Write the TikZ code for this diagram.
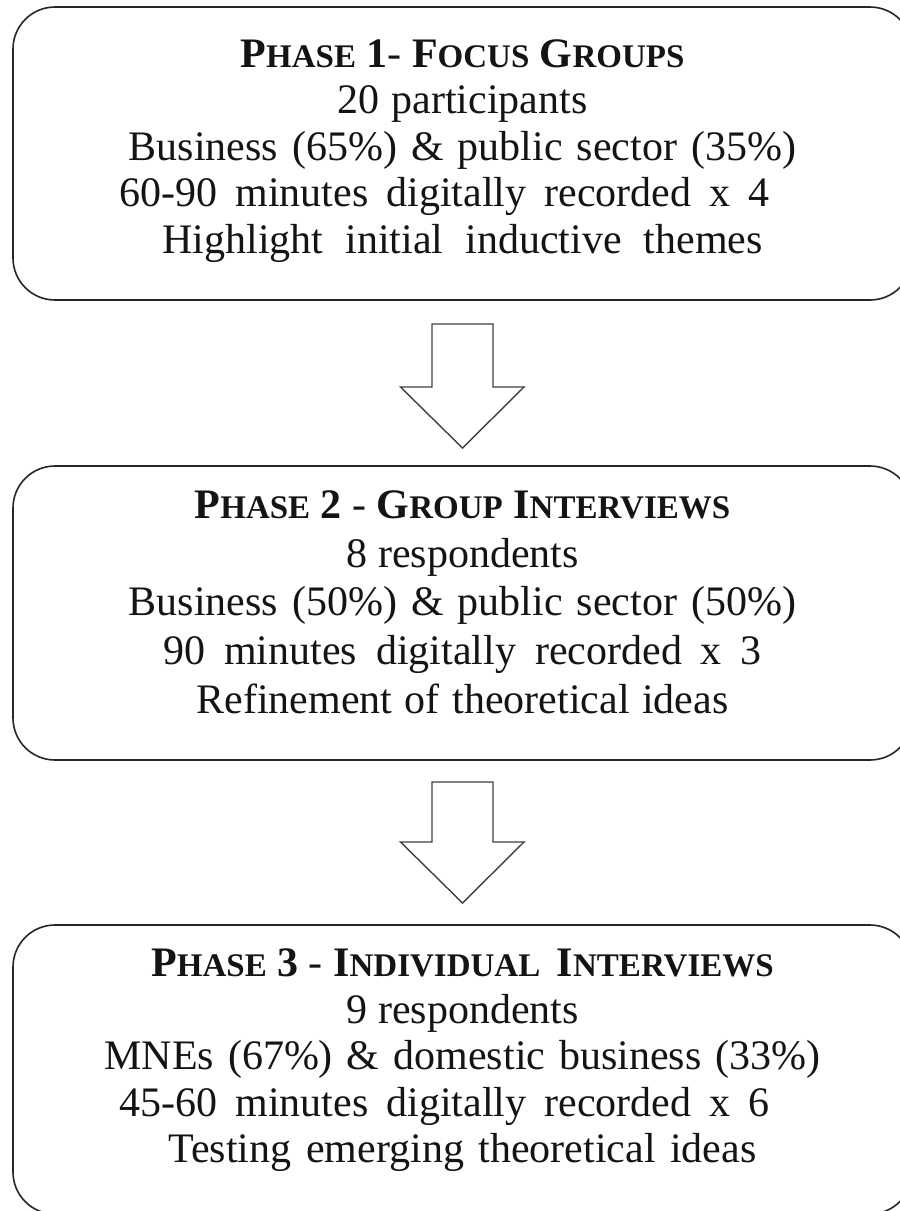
\documentclass[tikz,border=0pt]{standalone}
\usepackage{fontspec}
\setmainfont{Liberation Serif}
\newcommand\smc[1]{{\fontsize{33}{33}\selectfont #1}}
\newcommand\wl[2]{{\spaceskip=#1pt\relax #2}}
\tikzset{
  phasebox/.style={draw=black!85, line width=1.6pt, rounded corners=42pt, fill=white,
    minimum width=899pt, inner sep=0pt},
  phasetext/.style={align=center, text=black!92, inner sep=0pt},
  blockarrow/.style={draw=black!75, line width=1.4pt, fill=white, line join=miter}
}
\begin{document}
\begin{tikzpicture}[x=1pt,y=1pt]
\useasboundingbox (0,0) rectangle (900,-1211);
\clip (0,0) rectangle (900,-1211);
\fill[white] (0,0) rectangle (900,-1211);
% boxes
\node[phasebox, minimum height=293pt] (b1) at (462.5,-153.5) {};
\node[phasebox, minimum height=294pt] (b2) at (462.5,-613) {};
\node[phasebox, minimum height=289pt] (b3) at (462.5,-1069.5) {};
% texts
\node[phasetext, font=\fontsize{42}{46.5}\selectfont] (t1) at ([yshift=2.5pt]b1.center)
 {\textbf{P\smc{HASE} 1}- \textbf{F\smc{OCUS} G\smc{ROUPS}}\\
  \wl{12}{20 participants}\\
  \wl{14}{Business (65\%) \& public sector (35\%)}\\
  \wl{18}{60-90 minutes digitally recorded x 4}\kern36pt\\
  \wl{22}{Highlight initial inductive themes}};
\node[phasetext, font=\fontsize{42}{48.7}\selectfont] (t2) at ([yshift=11pt]b2.center)
 {\textbf{P\smc{HASE} 2} - \textbf{G\smc{ROUP} I\smc{NTERVIEWS}}\\
  \wl{11}{8 respondents}\\
  \wl{14}{Business (50\%) \& public sector (50\%)}\\
  \wl{19}{90 minutes digitally recorded x 3}\\
  \wl{12.5}{Refinement of theoretical ideas}};
\node[phasetext, font=\fontsize{42}{46.5}\selectfont] (t3) at ([yshift=9pt]b3.center)
 {\textbf{P\smc{HASE} 3} - \textbf{I\smc{NDIVIDUAL}\hspace{6pt} I\smc{NTERVIEWS}}\\
  \wl{11}{9 respondents}\\
  \wl{14}{MNEs (67\%) \& domestic business (33\%)}\\
  \wl{18}{45-60 minutes digitally recorded x 6}\kern36pt\\
  \wl{14.5}{Testing emerging theoretical ideas}};
% block arrows
\coordinate (a1) at (462.5,-324);
\draw[blockarrow] ([xshift=-30.5pt]a1) -- ([xshift=30.5pt]a1) -- ++(0,-63) -- ++(31,0)
  -- ([yshift=-124pt]a1) -- ([xshift=-62pt,yshift=-63pt]a1) -- ([xshift=-30.5pt,yshift=-63pt]a1) -- cycle;
\coordinate (a2) at (462.5,-782);
\draw[blockarrow] ([xshift=-30.5pt]a2) -- ([xshift=30.5pt]a2) -- ++(0,-60) -- ++(31,0)
  -- ([yshift=-121pt]a2) -- ([xshift=-62pt,yshift=-60pt]a2) -- ([xshift=-30.5pt,yshift=-60pt]a2) -- cycle;
\end{tikzpicture}
\end{document}
